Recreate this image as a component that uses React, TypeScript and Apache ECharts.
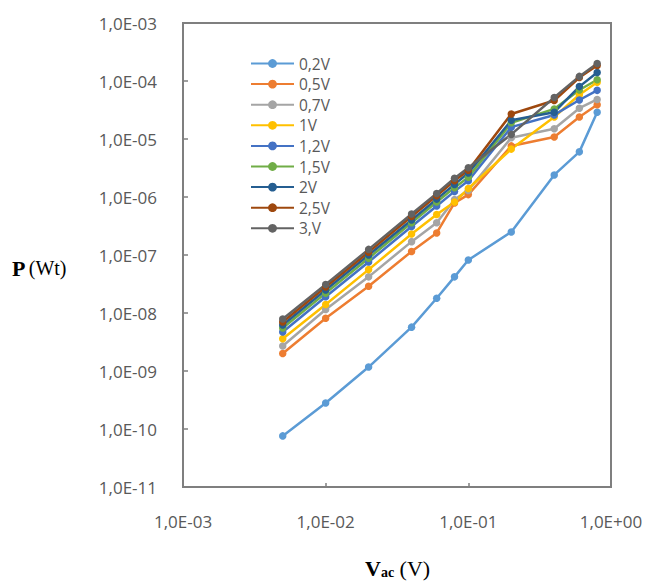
import React, { useEffect, useRef } from "react";
import * as echarts from "echarts";

const xValues = [0.005, 0.01, 0.02, 0.04, 0.06, 0.08, 0.1, 0.2, 0.4, 0.6, 0.8];

const seriesNames = ["0,2V", "0,5V", "0,7V", "1V", "1,2V", "1,5V", "2V", "2,5V", "3,V"];
const seriesColors = ["#5B9BD5", "#ED7D31", "#A5A5A5", "#FFC000", "#4472C4", "#70AD47", "#255E91", "#9E480E", "#636363"];

const v02 = [7.6e-11, 2.8e-10, 1.17e-9, 5.7e-9, 1.8e-8, 4.2e-8, 8.2e-8, 2.5e-7, 2.4e-6, 6.0e-6, 2.9e-5];
const v05 = [2.0e-9, 8.1e-9, 2.9e-8, 1.15e-7, 2.4e-7, 7.9e-7, 1.1e-6, 7.6e-6, 1.08e-5, 2.4e-5, 3.9e-5];
const v07 = [2.7e-9, 1.15e-8, 4.2e-8, 1.7e-7, 3.6e-7, 9.0e-7, 1.3e-6, 1.05e-5, 1.5e-5, 3.4e-5, 4.8e-5];
const v1 = [3.6e-9, 1.4e-8, 5.6e-8, 2.3e-7, 5.0e-7, 8.2e-7, 1.4e-6, 6.7e-6, 2.4e-5, 5.8e-5, 9.5e-5];
const v12 = [4.7e-9, 1.9e-8, 7.6e-8, 3.1e-7, 7.0e-7, 1.25e-6, 1.9e-6, 1.6e-5, 2.6e-5, 4.7e-5, 6.9e-5];
const v15 = [5.5e-9, 2.2e-8, 8.8e-8, 3.6e-7, 8.2e-7, 1.45e-6, 2.2e-6, 1.9e-5, 3.3e-5, 7.0e-5, 1.05e-4];
const v2 = [6.2e-9, 2.5e-8, 1.0e-7, 4.0e-7, 9.2e-7, 1.65e-6, 2.6e-6, 2.1e-5, 2.9e-5, 8.0e-5, 1.4e-4];
const v25 = [7.0e-9, 2.8e-8, 1.12e-7, 4.6e-7, 1.05e-6, 1.9e-6, 2.9e-6, 2.7e-5, 4.6e-5, 1.15e-4, 1.85e-4];
const v3 = [7.9e-9, 3.1e-8, 1.25e-7, 5.1e-7, 1.15e-6, 2.1e-6, 3.2e-6, 1.2e-5, 5.2e-5, 1.2e-4, 2.0e-4];

const seriesValues = [v02, v05, v07, v1, v12, v15, v2, v25, v3];

const fmtExp = (v: number) => {
  const e = Math.round(Math.log10(v));
  const sign = e < 0 ? "-" : "+";
  const a = Math.abs(e);
  return "1,0E" + sign + (a < 10 ? "0" + a : String(a));
};

export default function App() {
  const ref = useRef<HTMLDivElement>(null);
  useEffect(() => {
    if (!ref.current) return;
    const chart = echarts.init(ref.current, undefined, { renderer: "svg" });
    const labelFont = { fontFamily: "Open Sans", fontSize: 17, color: "#595959" };
    chart.setOption({
      animation: false,
      backgroundColor: "#ffffff",
      grid: {
        left: 183,
        right: 39,
        top: 23,
        bottom: 101,
        show: true,
        borderColor: "#7f7f7f",
        borderWidth: 2,
        backgroundColor: "transparent",
      },
      legend: {
        orient: "vertical",
        left: 245,
        top: 50,
        itemWidth: 43,
        itemHeight: 11,
        itemGap: 3.6,
        textStyle: { fontFamily: "Open Sans", fontSize: 15.5, lineHeight: 17, color: "#595959" },
        data: seriesNames,
      },
      xAxis: {
        type: "log",
        logBase: 10,
        min: 0.001,
        max: 1,
        axisLine: { show: true, lineStyle: { color: "#7f7f7f", width: 2 } },
        axisTick: { show: true, inside: true, length: 4, lineStyle: { color: "#7f7f7f", width: 1.5 } },
        splitLine: { show: false },
        minorTick: { show: false },
        axisLabel: { ...labelFont, margin: 26, formatter: (v: number) => fmtExp(v) },
      },
      yAxis: {
        type: "log",
        logBase: 10,
        min: 1e-11,
        max: 1e-3,
        axisLine: { show: true, lineStyle: { color: "#7f7f7f", width: 2 } },
        axisTick: { show: true, inside: true, length: 5, lineStyle: { color: "#7f7f7f", width: 1.5 } },
        splitLine: { show: false },
        axisLabel: { ...labelFont, margin: 26, formatter: (v: number) => fmtExp(v) },
      },
      series: seriesNames.map((name, i) => ({
        name,
        type: "line",
        symbol: "circle",
        symbolSize: 7.5,
        color: seriesColors[i],
        lineStyle: { width: 2.5, color: seriesColors[i] },
        itemStyle: { color: seriesColors[i] },
        data: xValues.map((x, j) => [x, seriesValues[i][j]]),
      })),
      graphic: [
        {
          type: "text",
          left: 12,
          top: 257,
          style: {
            text: "{b|P} {n|(Wt)}",
            rich: {
              b: { fontFamily: "Liberation Serif", fontWeight: "bold", fontSize: 22, fill: "#000" },
              n: { fontFamily: "Liberation Serif", fontSize: 20, fill: "#000" },
            },
          },
        },
        {
          type: "text",
          left: 365,
          top: 557,
          style: {
            text: "{b|V}{s|ac}{n| (V)}",
            rich: {
              b: { fontFamily: "Liberation Serif", fontWeight: "bold", fontSize: 22, fill: "#000" },
              s: { fontFamily: "Liberation Serif", fontWeight: "bold", fontSize: 14, fill: "#000", padding: [9, 0, 0, 0] },
              n: { fontFamily: "Liberation Serif", fontSize: 22, fill: "#000" },
            },
          },
        },
      ],
    });
    return () => chart.dispose();
  }, []);
  return <div ref={ref} style={{ position: "absolute", left: 0, top: 0, width: 650, height: 588 }} />;
}
